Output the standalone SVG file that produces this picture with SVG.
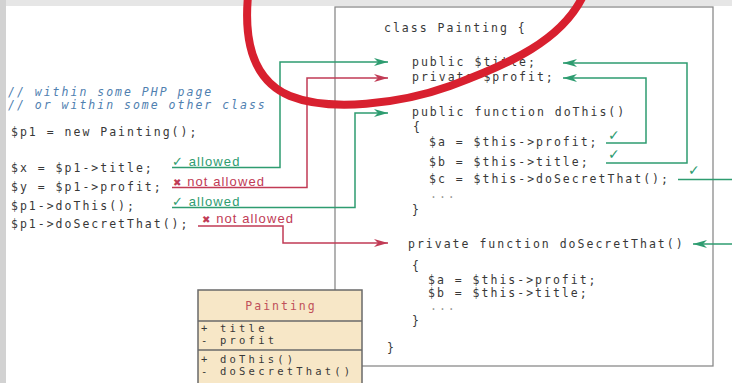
<svg xmlns="http://www.w3.org/2000/svg" width="732" height="383" viewBox="0 0 732 383">
<style>
.code{font-family:"DejaVu Sans Mono","Liberation Mono",monospace;font-size:11.5px;letter-spacing:2px;fill:#383838}
.cmt{font-family:"DejaVu Sans Mono","Liberation Mono",monospace;font-size:11.5px;letter-spacing:2px;fill:#4f80b0;font-style:italic}
.dots{fill:#999}
.lbl{font-family:"Liberation Sans","DejaVu Sans",sans-serif;font-size:13px;letter-spacing:1.1px}
.ok{fill:#2e9c70}
.no{fill:#c13b55}
.g{stroke:#2e9c70;stroke-width:1.5;fill:none}
.r{stroke:#c13b55;stroke-width:1.5;fill:none}
.chk{font-family:"DejaVu Sans",sans-serif;font-size:14px;fill:#2e9c70}
.uml{font-family:"DejaVu Sans Mono","Liberation Mono",monospace;font-size:10.5px;letter-spacing:3.2px;fill:#383838}
</style>
<defs>
<marker id="ag" viewBox="0 0 14 8" refX="14" refY="4" markerWidth="14" markerHeight="8" markerUnits="userSpaceOnUse" orient="auto"><path d="M0,0 L14,4 L0,8 L4,4 z" fill="#2e9c70"/></marker>
<marker id="ar" viewBox="0 0 14 8" refX="14" refY="4" markerWidth="14" markerHeight="8" markerUnits="userSpaceOnUse" orient="auto"><path d="M0,0 L14,4 L0,8 L4,4 z" fill="#c13b55"/></marker>
</defs>
<rect x="0" y="0" width="732" height="383" fill="#ffffff"/>
<rect x="0" y="0" width="732" height="6" fill="#e6e6e6"/>
<rect x="0" y="0" width="6" height="383" fill="#d2d2d2"/>

<g id="class-box">
<rect x="335" y="7" width="378" height="359" fill="none" stroke="#8a8a8a" stroke-width="1.3"/>
<text class="code" x="384" y="32">class Painting {</text>
<text class="code" x="412" y="66">public $title;</text>
<text class="code" x="412" y="81">private $profit;</text>
<text class="code" x="412" y="116">public function doThis()</text>
<text class="code" x="413" y="131">{</text>
<text class="code" x="429" y="146">$a = $this-&gt;profit;</text>
<text class="code" x="429" y="166">$b = $this-&gt;title;</text>
<text class="code" x="429" y="183">$c = $this-&gt;doSecretThat();</text>
<text class="code dots" x="430" y="198">...</text>
<text class="code" x="412" y="214">}</text>
<text class="code" x="408" y="248">private function doSecretThat()</text>
<text class="code" x="412" y="270">{</text>
<text class="code" x="428" y="284">$a = $this-&gt;profit;</text>
<text class="code" x="428" y="297">$b = $this-&gt;title;</text>
<text class="code dots" x="430" y="310">...</text>
<text class="code" x="412" y="325">}</text>
<text class="code" x="387" y="352">}</text>
</g>

<g id="page-code">
<text class="cmt" x="8" y="96">// within some PHP page</text>
<text class="cmt" x="8" y="109">// or within some other class</text>
<text class="code" x="11" y="136">$p1 = new Painting();</text>
<text class="code" x="11" y="172">$x = $p1-&gt;title;</text>
<text class="code" x="11" y="191">$y = $p1-&gt;profit;</text>
<text class="code" x="11" y="210">$p1-&gt;doThis();</text>
<text class="code" x="11" y="228">$p1-&gt;doSecretThat();</text>
</g>

<g id="connectors">
<path class="g" d="M172,167.5 H280 V62 H388" marker-end="url(#ag)"/>
<path class="r" d="M172,187.5 H307 V78 H388" marker-end="url(#ar)"/>
<path class="g" d="M172,207.5 H355 V113 H388" marker-end="url(#ag)"/>
<path class="r" d="M198,226 H283 V243 H388" marker-end="url(#ar)"/>
<path class="g" d="M606,143 H646 V78 H563" marker-end="url(#ag)"/>
<path class="g" d="M606,163 H687 V63 H563" marker-end="url(#ag)"/>
<path class="g" d="M678,179.5 H732"/>
<path class="g" d="M732,244 H693" marker-end="url(#ag)"/>
<text class="lbl ok" x="172" y="166">✓ allowed</text>
<text class="lbl no" x="173" y="186"><tspan font-size="10">✖</tspan> not allowed</text>
<text class="lbl ok" x="172" y="206">✓ allowed</text>
<text class="lbl no" x="202" y="223"><tspan font-size="10">✖</tspan> not allowed</text>
<text class="chk" x="608" y="140">✓</text>
<text class="chk" x="608" y="159">✓</text>
<text class="chk" x="688" y="175">✓</text>
</g>

<g id="uml-painting">
<rect x="198" y="290" width="164" height="100" fill="#f7e7c7" stroke="#6a6a6a" stroke-width="1.5"/>
<line x1="198" y1="321" x2="362" y2="321" stroke="#6a6a6a" stroke-width="1.5"/>
<line x1="198" y1="350" x2="362" y2="350" stroke="#6a6a6a" stroke-width="1.5"/>
<text class="uml" x="281" y="310" text-anchor="middle" style="fill:#c0505a;font-size:11.5px;letter-spacing:2px">Painting</text>
<text class="uml" x="201" y="332">+ title</text>
<text class="uml" x="201" y="344">- profit</text>
<text class="uml" x="201" y="363">+ doThis()</text>
<text class="uml" x="201" y="375">- doSecretThat()</text>
</g>

<path d="M248,-4 C244,40 252,80 290,96 C330,112 400,104 450,86 C510,64 562,40 583,-4" fill="none" stroke="#d8202f" stroke-width="8" stroke-linecap="round"/>
</svg>
